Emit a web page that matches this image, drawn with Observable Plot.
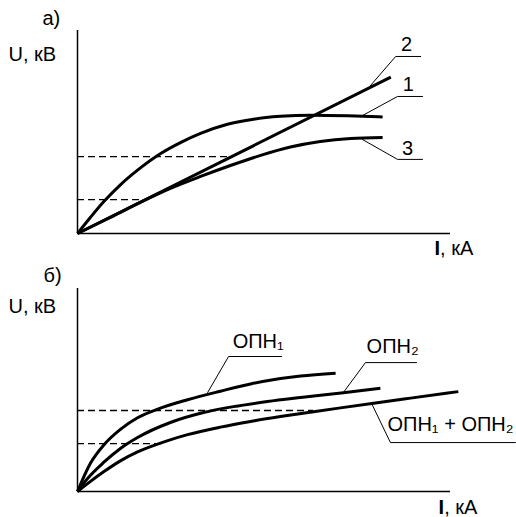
<!DOCTYPE html>
<html><head><meta charset="utf-8">
<script src="https://cdn.jsdelivr.net/npm/d3@7"></script>
<script src="https://cdn.jsdelivr.net/npm/@observablehq/plot@0.6"></script>
<style>
body{margin:0;background:#fff}
#chart svg{display:block}
</style>
</head><body><div id="chart"></div>
<script>
// ---------- Panel а) : U(I) of three characteristics ----------
const panelNames = ["а)", "б)"];
const axisU = "U, кВ";
const axisI = ["I", ", кА"];

const aI1 = [0, 3.5, 7.0, 11.5, 16.1, 22.3, 27.6, 33.0, 40.2, 47.2, 54.4, 62.5, 72.4, 81.8];
const aU1 = [0, 8.0, 15.6, 24.0, 31.2, 39.4, 44.8, 49.3, 53.8, 56.3, 57.7, 58.3, 58.0, 57.4];
const aI2 = [0, 84];
const aU2 = [0, 77];
const aI3 = [0, 8.8, 17.4, 24.9, 33.0, 41.0, 49.1, 57.1, 65.1, 73.2, 81.8];
const aU3 = [0, 7.9, 15.8, 22.2, 28.1, 33.5, 38.5, 42.6, 45.3, 46.8, 47.3];
const aDashU = [37.9, 16.7];
const aDashI = [41.3, 17.7];
const aCurveNames = ["2", "1", "3"];
const aLeaderI = [[77.7, 85.3, 92.0], [75.9, 85.8, 92.5], [76.4, 85.8, 92.5]];
const aLeaderU = [[71.1, 87.2, 87.2], [57.6, 67.5, 67.5], [46.3, 36.5, 36.5]];
const aNameI = [88.2, 88.7, 88.5];
const aNameU = [90.1, 70.4, 38.9];

// ---------- Panel б) : two arresters and their parallel connection ----------
const bI1 = [0, 3.5, 7.0, 11.5, 16.1, 21.7, 29.5, 38.3, 46.4, 51.2, 59.8, 69.2];
const bU1 = [0, 14.0, 22.8, 30.6, 36.3, 40.7, 45.2, 49.4, 53.0, 54.7, 56.9, 58.3];
const bI2 = [0, 2.7, 7.0, 11.5, 16.1, 24.9, 33.8, 41.8, 50.9, 59.8, 71.3, 81.2];
const bU2 = [0, 6.4, 14.3, 21.2, 26.6, 34.0, 38.9, 41.8, 44.3, 46.3, 48.7, 50.9];
const bI12 = [0, 2.7, 7.0, 11.5, 16.1, 23.6, 29.5, 38.3, 46.4, 54.4, 63.3, 70.5, 79.4, 89.3, 102.1];
const bU12 = [0, 3.9, 9.7, 15.1, 19.5, 24.7, 28.0, 31.7, 34.5, 36.9, 39.3, 41.2, 43.5, 46.0, 49.2];
const bDashU = [39.9, 23.6];
const bDashI = [63.3, 23.0];
const bCurveNames = ["ОПН₁", "ОПН₂", "ОПН₁ + ОПН₂"];
const bLeaderI = [[34.9, 40.5, 54.7], [71.3, 77.2, 90.9], [79.1, 83.9, 117.4]];
const bLeaderU = [[48.8, 66.5, 66.5], [48.8, 63.5, 63.5], [42.4, 24.1, 24.1]];
const bNameI = [41.6, 77.5, 83.1];
const bNameU = [70.9, 68.0, 29.6];

// anchors of the panel titles and axis names (data units)
const titleI = [-9.4, -9.1];
const titleU = [102.5, 103.4];
const axisUI = [-18.5, -18.5];
const axisUU = [85.2, 87.7];
const axisII = [95.7, 96.8];
const axisIU = [-10.8, -11.3];

const zip = (I, U) => I.map((x, i) => ({I: x, U: U[i]}));
const FONT = "'Liberation Sans', Arial, Helvetica, sans-serif";
const FS = 20;

function panel(p, k) {
  const marks = [
    Plot.ruleY([0], {x1: 0, x2: 100, strokeWidth: 1.5}),
    Plot.ruleX([0], {y1: 0, y2: 100, strokeWidth: 1.5}),
    Plot.ruleY(p.dashU, {x1: 0, x2: (d, i) => p.dashI[i], strokeDasharray: "7,4", strokeWidth: 1.3}),
    ...p.curves.map(c => Plot.line(zip(c[0], c[1]), {x: "I", y: "U", curve: "monotone-x", strokeWidth: 3, strokeLinecap: "butt"})),
    ...p.leaderI.map((L, i) => Plot.line(zip(L, p.leaderU[i]), {x: "I", y: "U", strokeWidth: 1})),
    Plot.text(p.names, {x: (d, i) => p.nameI[i], y: (d, i) => p.nameU[i], text: d => d,
      textAnchor: p.nameAnchor, lineAnchor: "bottom", fontSize: FS, fill: "black"}),
    Plot.text([panelNames[k]], {x: titleI[k], y: titleU[k], textAnchor: "start", lineAnchor: "bottom", fontSize: FS}),
    Plot.text([axisU], {x: axisUI[k], y: axisUU[k], textAnchor: "start", lineAnchor: "bottom", fontSize: FS}),
    Plot.text([axisI[0]], {x: axisII[k], y: axisIU[k], textAnchor: "start", lineAnchor: "bottom", fontSize: FS, fontWeight: "bold"}),
    Plot.text([axisI[1]], {x: axisII[k], y: axisIU[k], dx: 5.6, textAnchor: "start", lineAnchor: "bottom", fontSize: FS})
  ];
  return Plot.plot({
    width: 516, height: p.height,
    marginLeft: 77, marginRight: 66, marginTop: 30, marginBottom: p.height - 233,
    x: {domain: [0, 100], axis: null},
    y: {domain: [0, 100], axis: null},
    style: {fontFamily: FONT, background: "white", color: "black", overflow: "visible"},
    marks
  });
}

const chart = document.getElementById("chart");
chart.append(panel({
  height: 258,
  curves: [[aI1, aU1], [aI2, aU2], [aI3, aU3]],
  dashU: aDashU, dashI: aDashI,
  leaderI: aLeaderI, leaderU: aLeaderU,
  names: aCurveNames, nameI: aNameI, nameU: aNameU, nameAnchor: "middle"
}, 0));
chart.append(panel({
  height: 259,
  curves: [[bI1, bU1], [bI2, bU2], [bI12, bU12]],
  dashU: bDashU, dashI: bDashI,
  leaderI: bLeaderI, leaderU: bLeaderU,
  names: bCurveNames, nameI: bNameI, nameU: bNameU, nameAnchor: "start"
}, 1));
</script>
</body></html>
